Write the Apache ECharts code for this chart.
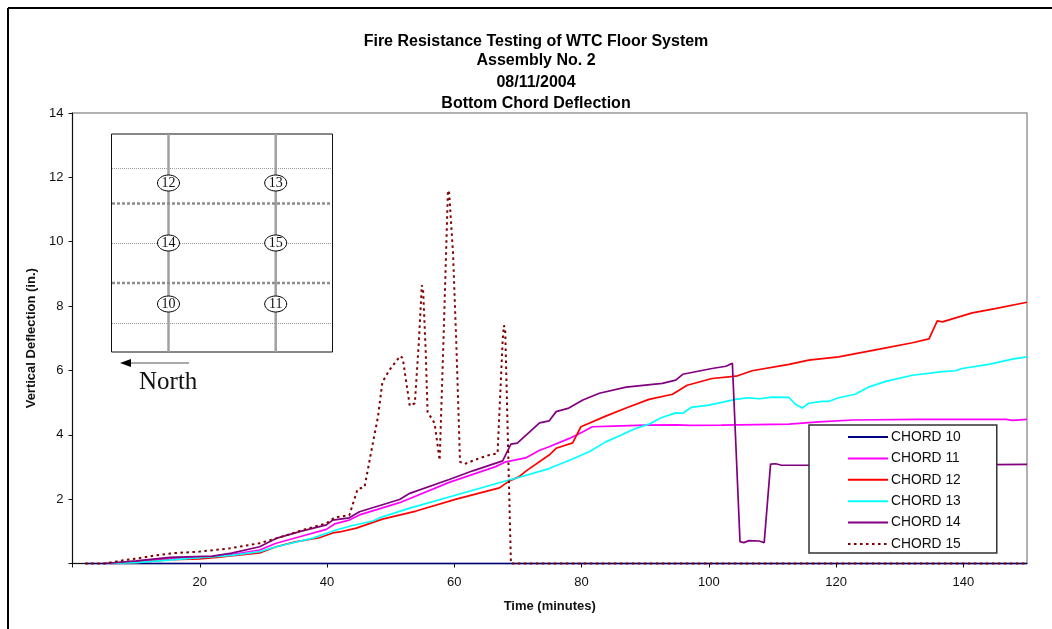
<!DOCTYPE html>
<html>
<head>
<meta charset="utf-8">
<title>Bottom Chord Deflection</title>
<script src="https://cdn.jsdelivr.net/npm/echarts@6/dist/echarts.min.js"></script>
<style>
  html, body { margin: 0; padding: 0; background: #fff; }
  #chart { width: 1052px; height: 629px; }
</style>
</head>
<body>
<div id="chart"></div>
<script>
const titleLines = ["Fire Resistance Testing of WTC Floor System", "Assembly No. 2", "08/11/2004", "Bottom Chord Deflection"];
const seriesNames = ["CHORD 10", "CHORD 11", "CHORD 12", "CHORD 13", "CHORD 14", "CHORD 15"];
const seriesColors = ["#000080", "#ff00ff", "#ff0000", "#00ffff", "#800080", "#800000"];
const xTicks = [0, 20, 40, 60, 80, 100, 120, 140];
const xLabels = [20, 40, 60, 80, 100, 120, 140];
const yLabels = [2, 4, 6, 8, 10, 12, 14];

// [minutes, inches]
const chord10 = [[2, 0], [40, 0], [80, 0], [120, 0], [150, 0]];
const chord11 = [[5, 0], [10, 0.06], [15, 0.15], [22, 0.2], [25, 0.28], [29.4, 0.42], [32, 0.63], [35.7, 0.83], [39.9, 1.06], [41.2, 1.23], [43.5, 1.35], [45.1, 1.51], [51.4, 1.89], [59.2, 2.52], [66.5, 3.01], [68.1, 3.16], [71.2, 3.28], [73.4, 3.52], [74.9, 3.63], [78, 3.88], [80, 4.07], [81.7, 4.25], [85, 4.27], [90, 4.3], [95, 4.31], [97, 4.29], [102, 4.3], [112.6, 4.33], [117.3, 4.4], [122.6, 4.46], [133, 4.48], [146.7, 4.48], [147.7, 4.45], [150, 4.48]];
const chord12 = [[6, 0], [10, 0.03], [15.3, 0.12], [20, 0.14], [23, 0.2], [29.4, 0.33], [32, 0.52], [35, 0.67], [38.8, 0.8], [40.9, 0.95], [42, 0.98], [44.6, 1.1], [48.7, 1.38], [54, 1.63], [60.3, 2.0], [67.1, 2.35], [68.6, 2.56], [70.2, 2.7], [71.3, 2.88], [74.9, 3.37], [76, 3.58], [78.6, 3.75], [79.9, 4.25], [83.8, 4.58], [87, 4.83], [90.6, 5.1], [94.3, 5.26], [96.6, 5.54], [100.5, 5.75], [104.3, 5.82], [106.8, 5.99], [112.6, 6.19], [115.7, 6.32], [120.4, 6.42], [126.8, 6.66], [132, 6.86], [134.6, 6.98], [135.9, 7.54], [136.7, 7.51], [141.4, 7.79], [145, 7.92], [150, 8.12]];
const chord13 = [[5, 0], [10, 0.03], [20, 0.18], [25, 0.25], [29.4, 0.37], [32, 0.52], [37.8, 0.79], [41.4, 1.04], [44, 1.18], [47.2, 1.32], [48.7, 1.45], [53, 1.72], [60.3, 2.13], [67.6, 2.54], [69.7, 2.65], [74.9, 2.95], [78, 3.2], [81.2, 3.47], [83.8, 3.78], [85.9, 3.96], [88.3, 4.18], [90.6, 4.33], [92.5, 4.53], [94.8, 4.68], [95.9, 4.67], [97.2, 4.85], [100, 4.92], [104.2, 5.1], [106.3, 5.15], [107.9, 5.12], [110, 5.17], [112.6, 5.16], [113.6, 4.95], [114.7, 4.83], [115.7, 4.98], [117.8, 5.04], [118.9, 5.04], [120.4, 5.15], [123, 5.26], [125.2, 5.49], [127.8, 5.66], [132, 5.85], [136.7, 5.96], [138.8, 5.99], [139.8, 6.06], [144, 6.19], [147.7, 6.35], [150, 6.42]];
const chord14 = [[5, 0], [10, 0.08], [15.3, 0.19], [22, 0.23], [25, 0.32], [29.4, 0.52], [32, 0.78], [35.7, 0.99], [39.9, 1.2], [40.9, 1.35], [43.5, 1.42], [45.1, 1.61], [51.4, 1.99], [53, 2.18], [59.2, 2.61], [62.9, 2.88], [67.6, 3.19], [68.9, 3.71], [69.9, 3.74], [73.4, 4.37], [74.9, 4.43], [76, 4.72], [78, 4.83], [80.2, 5.08], [82.8, 5.29], [87, 5.48], [92.7, 5.6], [94.8, 5.7], [95.9, 5.88], [100.5, 6.06], [102.7, 6.13], [103.7, 6.22], [104.9, 0.68], [105.5, 0.65], [106.3, 0.71], [107.9, 0.7], [108.7, 0.65], [109.7, 3.09], [110.5, 3.1], [111.3, 3.06], [130, 3.05], [150, 3.08]];
const chord15 = [[2, 0], [5, 0], [8, 0.1], [10, 0.15], [13, 0.25], [15.8, 0.32], [20, 0.37], [24.7, 0.47], [29.4, 0.63], [32, 0.78], [36.2, 1.04], [39.9, 1.25], [41.2, 1.43], [43.5, 1.5], [44.8, 2.31], [45.9, 2.38], [47.2, 3.74], [48, 4.55], [48.7, 5.64], [49.8, 6.01], [51.5, 6.45], [51.9, 6.38], [53, 4.9], [53.8, 4.98], [54.4, 6.79], [54.9, 8.65], [55.1, 8.5], [55.5, 6.63], [55.8, 4.71], [56.9, 4.36], [57.7, 3.21], [57.9, 3.15], [58.3, 6.94], [59, 11.6], [59.2, 11.5], [59.8, 9.64], [60.3, 6.94], [60.9, 3.16], [61.6, 3.09], [63.9, 3.27], [65.5, 3.37], [66.8, 3.42], [67.6, 6.94], [67.8, 7.4], [68, 7.25], [68.3, 4.83], [68.7, 1.57], [68.9, 0], [80, 0], [150, 0]];
const seriesData = [chord10, chord11, chord12, chord13, chord14, chord15];

// floor plan inset, labels in drawing order
const insetLabels = ["12", "13", "14", "15", "10", "11"];

const fontSans = '"Liberation Sans", Arial, sans-serif';
const fontSerif = '"Liberation Serif", "Times New Roman", serif';
const insetGray = "#a0a0a0";

const hLine = (y, lineWidth, dash, color) => ({
  type: "line",
  shape: { x1: 112, y1: y, x2: 332, y2: y },
  style: { stroke: color, lineWidth: lineWidth, lineDash: dash },
});
const vLine = (x) => ({
  type: "line",
  shape: { x1: x, y1: 134, x2: x, y2: 352 },
  style: { stroke: insetGray, lineWidth: 2.5 },
});
const bubble = (i) => {
  const cx = i % 2 === 0 ? 168.5 : 275.7;
  const cy = [183, 243, 304][Math.floor(i / 2)];
  return {
    type: "ellipse",
    shape: { cx: cx, cy: cy, rx: 11, ry: 8 },
    style: { fill: "#fff", stroke: "#000", lineWidth: 1 },
    textContent: {
      style: { text: insetLabels[i], font: "14px " + fontSerif, fill: "#111" },
    },
    textConfig: { position: "inside" },
  };
};

const titleElements = titleLines.map((t, i) => ({
  type: "text",
  x: 536,
  y: [41.5, 61, 83, 103.5][i],
  style: { text: t, font: "bold 16px " + fontSans, fill: "#000", align: "center", verticalAlign: "middle" },
}));

const insetElements = [
  { type: "rect", shape: { x: 111.5, y: 134, width: 221, height: 218 }, style: { fill: "#fff", stroke: "#111", lineWidth: 1 } },
  hLine(168.5, 1, [1, 1], "#999"),
  hLine(243.5, 1, [1, 1], "#999"),
  hLine(323.5, 1, [1, 1], "#999"),
  vLine(168.5),
  vLine(275.7),
  hLine(203.5, 2.5, [3, 2], "#8c8c8c"),
  hLine(283, 2.5, [3, 2], "#8c8c8c"),
  ...insetLabels.map((_, i) => bubble(i)),
  { type: "line", shape: { x1: 130, y1: 363, x2: 189, y2: 363 }, style: { stroke: "#555", lineWidth: 1.2 } },
  { type: "polygon", shape: { points: [[120, 363], [131, 359], [131, 367]] }, style: { fill: "#000" } },
  { type: "text", x: 139, y: 382, style: { text: "North", font: "25px " + fontSerif, fill: "#111", verticalAlign: "middle" } },
];

const options = {
  animation: false,
  backgroundColor: "#fff",
  textStyle: { fontFamily: fontSans },
  grid: {
    left: 72.5,
    right: 25,
    top: 113,
    bottom: 65.5,
    show: true,
    borderColor: "#999",
    borderWidth: 1.5,
    backgroundColor: "#fff",
  },
  legend: {
    orient: "vertical",
    left: 809,
    top: 425,
    padding: [5, 36, 2, 38],
    itemWidth: 40,
    itemHeight: 14,
    itemGap: 7.4,
    itemStyle: { opacity: 0 },
    backgroundColor: "#fff",
    borderColor: "#333",
    borderWidth: 1.5,
    data: seriesNames,
    textStyle: { fontFamily: fontSans, fontSize: 13.8, color: "#111", padding: [0, 0, 0, -2] },
  },
  xAxis: {
    type: "value",
    min: 0,
    max: 150,
    interval: 10,
    name: "Time (minutes)",
    nameLocation: "middle",
    nameGap: 36,
    nameTextStyle: { fontFamily: fontSans, fontWeight: "bold", fontSize: 13, color: "#111" },
    splitLine: { show: false },
    axisLine: { onZero: false, lineStyle: { color: "#111", width: 1 } },
    axisTick: { length: 4, customValues: xTicks, lineStyle: { color: "#111" } },
    axisLabel: { customValues: xLabels, margin: 12, fontFamily: fontSans, fontSize: 13, color: "#111" },
  },
  yAxis: {
    type: "value",
    min: 0,
    max: 14,
    interval: 2,
    name: "Vertical Deflection (in.)",
    nameLocation: "middle",
    nameGap: 30,
    nameTextStyle: { fontFamily: fontSans, fontWeight: "bold", fontSize: 13, color: "#111" },
    splitLine: { show: false },
    axisLine: { show: true, lineStyle: { color: "#111", width: 1 } },
    axisTick: { show: true, length: 4, lineStyle: { color: "#111" } },
    axisLabel: { customValues: yLabels, margin: 9, fontFamily: fontSans, fontSize: 13, color: "#111" },
  },
  series: seriesNames.map((name, i) => ({
    name: name,
    type: "line",
    data: seriesData[i],
    showSymbol: false,
    symbol: "none",
    clip: false,
    color: seriesColors[i],
    lineStyle: {
      color: seriesColors[i],
      width: i === 5 ? 2 : 1.7,
      type: i === 5 ? [2.5, 3.5] : "solid",
    },
  })),
  graphic: [
    { type: "line", z: 10, shape: { x1: 8, y1: 8, x2: 1052, y2: 8 }, style: { stroke: "#000", lineWidth: 2 } },
    { type: "line", z: 10, shape: { x1: 8, y1: 8, x2: 8, y2: 629 }, style: { stroke: "#000", lineWidth: 2 } },
    ...titleElements,
    ...insetElements,
  ],
};

const chart = echarts.init(document.getElementById("chart"), null, { renderer: "canvas" });
chart.setOption(options);
</script>
</body>
</html>
